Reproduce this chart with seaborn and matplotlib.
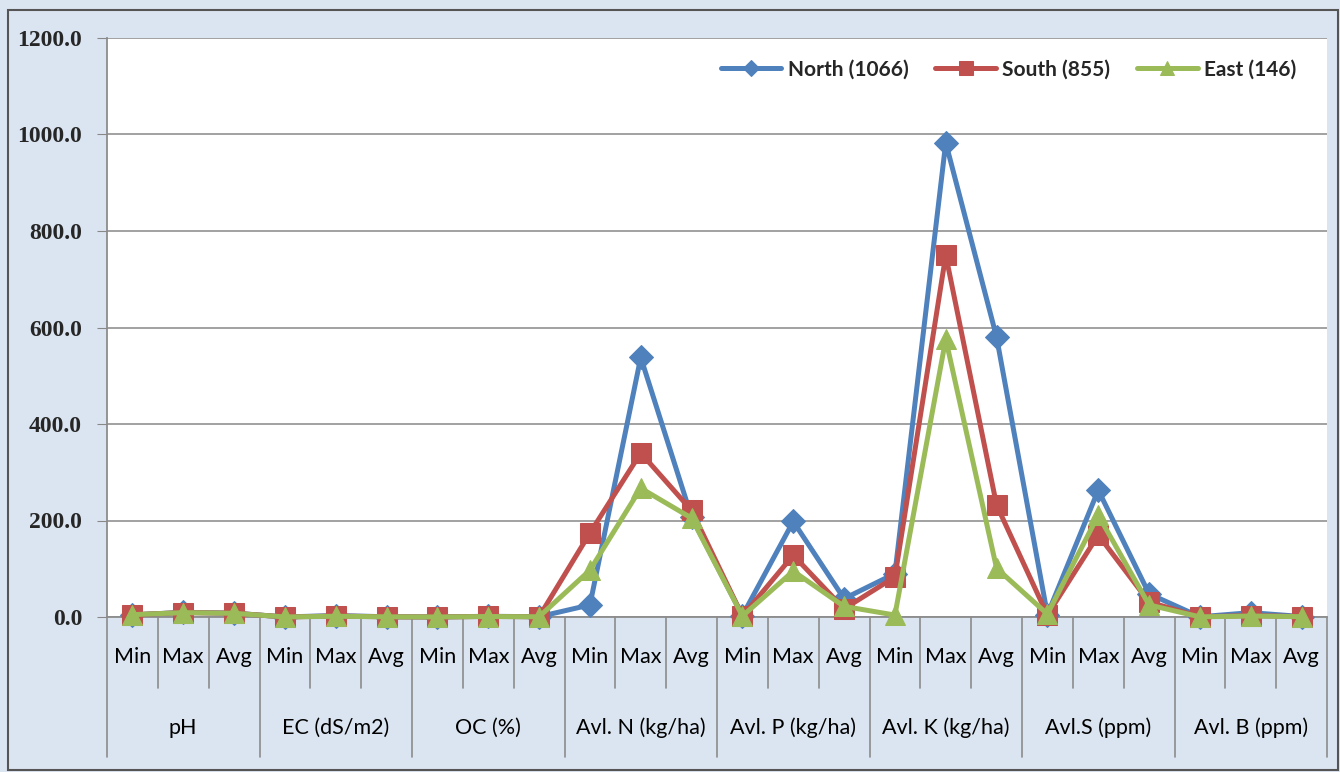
import pandas as pd
import seaborn as sns
import matplotlib.pyplot as plt
from matplotlib.patches import Rectangle

# chart values
groups = ['pH', 'EC (dS/m2)', 'OC (%)', 'Avl. N (kg/ha)', 'Avl. P (kg/ha)',
          'Avl. K (kg/ha)', 'Avl.S (ppm)', 'Avl. B (ppm)']
stats = ['Min', 'Max', 'Avg']
regions = ['North (1066)', 'South (855)', 'East (146)']

north = [4.5, 9.5, 8.0, 0.1, 3.0, 0.5, 0.1, 1.5, 0.6,
         25, 538, 207, 3, 198, 38, 90, 983, 580,
         5, 263, 48, 0.5, 9, 1.0]
south = [4.6, 9.2, 7.8, 0.1, 2.0, 0.4, 0.1, 1.2, 0.5,
         174, 340, 221, 2, 128, 17, 83, 750, 232,
         4, 170, 31, 0.4, 3, 0.8]
east = [4.8, 9.0, 7.6, 0.1, 1.5, 0.4, 0.1, 1.0, 0.5,
        97, 267, 205, 2, 95, 22, 4, 576, 101,
        6, 211, 25, 0.3, 2, 0.7]

colors = {'North (1066)': '#4F81BD', 'South (855)': '#C0504D', 'East (146)': '#9BBB59'}
markers = {'North (1066)': 'D', 'South (855)': 's', 'East (146)': '^'}
msizes = {'North (1066)': 12, 'South (855)': 15, 'East (146)': 15}

labels = [s for g in groups for s in stats]
rows = []
for name, vals in zip(regions, [north, south, east]):
    for i, v in enumerate(vals):
        rows.append({'pos': i, 'value': v, 'region': name})
df = pd.DataFrame(rows)

sns.set_style('white')
plt.rcParams['font.family'] = ['Lato', 'DejaVu Sans']

bg = '#DBE5F1'
fig = plt.figure(figsize=(13.4, 7.72), dpi=100, facecolor=bg)
fig.patches.append(Rectangle((8 / 1340, 2 / 772), 1330 / 1340, 760 / 772,
                             transform=fig.transFigure, fill=False,
                             edgecolor='#555555', linewidth=1.5))
ax = fig.add_axes([107 / 1340, 155 / 772, 1220 / 1340, 579 / 772])
ax.set_facecolor('white')

for name in regions:
    sns.lineplot(data=df[df['region'] == name], x='pos', y='value', ax=ax,
                 color=colors[name], marker=markers[name], markersize=msizes[name],
                 markeredgecolor=colors[name], linewidth=3.6, label=name,
                 clip_on=False, zorder=3)

ax.set_xlim(-0.5, len(labels) - 0.5)
ax.set_ylim(0, 1200)
ax.set_yticks(range(0, 1201, 200))
ax.set_yticklabels([f'{v:.1f}' for v in range(0, 1201, 200)],
                   fontfamily='Liberation Serif', fontweight='bold', fontsize=17)
ax.tick_params(axis='y', length=7, color='#888888', pad=11, left=True)
ax.set_xticks([])
ax.grid(axis='y', color='#9A9A9A', linewidth=1.3)
ax.set_axisbelow(True)
for side in ['top', 'right']:
    ax.spines[side].set_visible(False)
for side in ['left', 'bottom']:
    ax.spines[side].set_color('#8C8C8C')
    ax.spines[side].set_linewidth(1.3)
ax.set_xlabel('')
ax.set_ylabel('')

# multi-level category axis
trans = ax.get_xaxis_transform()
h_minor = 71 / 579
h_major = 140 / 579
for i in range(len(labels) + 1):
    depth = h_major if i % 3 == 0 else h_minor
    ax.plot([i - 0.5, i - 0.5], [0, -depth], transform=trans, color='#8C8C8C',
            linewidth=1.2, clip_on=False)
for i, lab in enumerate(labels):
    ax.text(i, -40 / 579, lab, transform=trans, ha='center', va='center',
            fontsize=15.5, color='black')
for j, g in enumerate(groups):
    ax.text(3 * j + 1, -111 / 579, g, transform=trans, ha='center', va='center',
            fontsize=15.5, color='black')

leg = ax.legend(loc='upper right', ncol=3, frameon=False, fontsize=15,
                bbox_to_anchor=(0.99, 0.995), handlelength=2.9, columnspacing=1.3,
                handletextpad=0.3, markerscale=0.65)
for t in leg.get_texts():
    t.set_fontweight('bold')

fig.savefig('out.png', dpi=100, facecolor=bg)
